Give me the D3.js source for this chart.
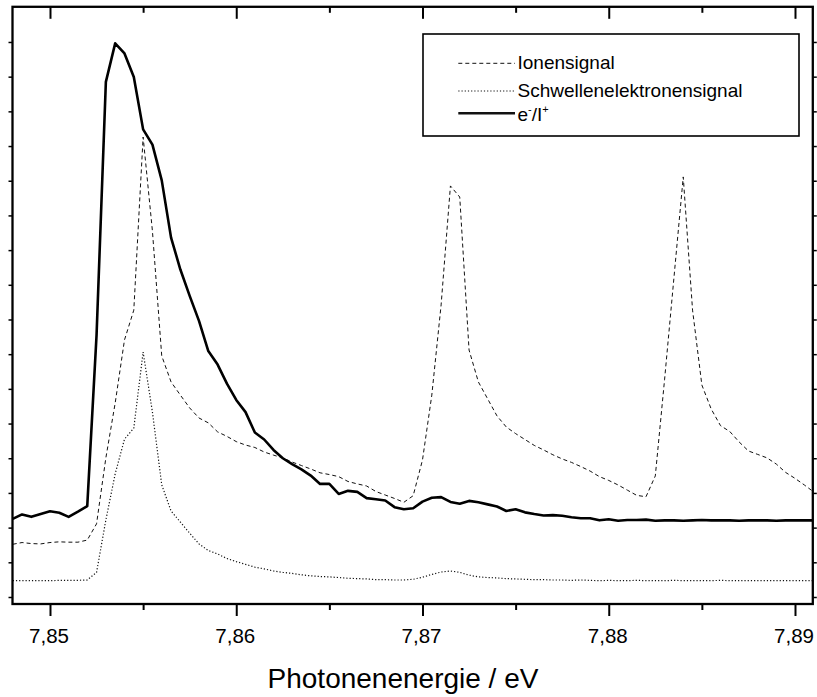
<!DOCTYPE html>
<html>
<head>
    <title>Photonenenergie Spektrum</title>
    <!-- fetch the D3js library -->
    <script src="https://d3js.org/d3.v7.min.js"></script>
    <style>
        body {
            margin: 0;
            background: #ffffff;
            font-family: "Liberation Sans", Arial, Helvetica, sans-serif;
        }
    </style>
</head>
<body>
<script>
    // Photon energy grid (eV)
    const energy = [
        7.8480, 7.8485, 7.8490, 7.8495, 7.8500, 7.8505, 7.8510, 7.8515, 7.8520, 7.8525,
        7.8530, 7.8535, 7.8540, 7.8545, 7.8550, 7.8555, 7.8560, 7.8565, 7.8570, 7.8575,
        7.8580, 7.8585, 7.8590, 7.8595, 7.8600, 7.8605, 7.8610, 7.8615, 7.8620, 7.8625,
        7.8630, 7.8635, 7.8640, 7.8645, 7.8650, 7.8655, 7.8660, 7.8665, 7.8670, 7.8675,
        7.8680, 7.8685, 7.8690, 7.8695, 7.8700, 7.8705, 7.8710, 7.8715, 7.8720, 7.8725,
        7.8730, 7.8735, 7.8740, 7.8745, 7.8750, 7.8755, 7.8760, 7.8765, 7.8770, 7.8775,
        7.8780, 7.8785, 7.8790, 7.8795, 7.8800, 7.8805, 7.8810, 7.8815, 7.8820, 7.8825,
        7.8830, 7.8835, 7.8840, 7.8845, 7.8850, 7.8855, 7.8860, 7.8865, 7.8870, 7.8875,
        7.8880, 7.8885, 7.8890, 7.8895, 7.8900, 7.8905, 7.8910
    ];

    // Ionensignal (arb. units)
    const ionSignal = [
        1.52, 1.57, 1.54, 1.53, 1.57, 1.59, 1.58, 1.58, 1.64, 2.11,
        4.01, 5.59, 7.41, 8.27, 13.26, 10.55, 6.95, 6.20, 5.82, 5.45,
        5.16, 5.02, 4.76, 4.63, 4.48, 4.38, 4.31, 4.18, 4.09, 4.01,
        3.89, 3.79, 3.69, 3.58, 3.53, 3.47, 3.33, 3.26, 3.20, 3.04,
        2.94, 2.84, 2.73, 2.92, 3.95, 5.82, 8.42, 11.85, 11.53, 7.12,
        6.20, 5.71, 5.22, 4.90, 4.71, 4.54, 4.37, 4.24, 4.10, 3.98,
        3.88, 3.76, 3.63, 3.47, 3.36, 3.23, 3.08, 2.93, 2.89, 3.49,
        6.28, 9.20, 12.11, 8.27, 6.11, 5.42, 4.94, 4.77, 4.47, 4.21,
        4.11, 4.01, 3.83, 3.59, 3.42, 3.23, 3.03
    ];

    // Schwellenelektronensignal (arb. units)
    const thresholdSignal = [
        0.47, 0.47, 0.47, 0.47, 0.47, 0.48, 0.48, 0.48, 0.49, 0.71,
        2.22, 3.55, 4.55, 4.87, 7.06, 5.33, 3.23, 2.48, 2.16, 1.84,
        1.53, 1.34, 1.24, 1.11, 1.02, 0.94, 0.86, 0.81, 0.75, 0.71,
        0.68, 0.64, 0.61, 0.59, 0.58, 0.56, 0.54, 0.53, 0.52, 0.50,
        0.50, 0.49, 0.49, 0.51, 0.57, 0.65, 0.72, 0.75, 0.71, 0.63,
        0.58, 0.56, 0.55, 0.53, 0.52, 0.51, 0.50, 0.50, 0.49, 0.49,
        0.48, 0.49, 0.48, 0.47, 0.48, 0.47, 0.47, 0.48, 0.47, 0.47,
        0.47, 0.48, 0.47, 0.47, 0.47, 0.47, 0.48, 0.47, 0.47, 0.47,
        0.47, 0.47, 0.47, 0.47, 0.47, 0.47, 0.47
    ];

    // e-/I+ ratio (arb. units)
    const ratioSignal = [
        2.25, 2.38, 2.31, 2.39, 2.47, 2.43, 2.31, 2.46, 2.62, 7.55,
        14.85, 15.96, 15.67, 14.99, 13.48, 13.04, 12.01, 10.36, 9.44, 8.68,
        7.96, 7.09, 6.70, 6.15, 5.68, 5.33, 4.74, 4.54, 4.24, 4.00,
        3.83, 3.68, 3.50, 3.26, 3.26, 2.97, 3.06, 3.03, 2.85, 2.82,
        2.78, 2.59, 2.53, 2.56, 2.75, 2.86, 2.88, 2.74, 2.69, 2.77,
        2.73, 2.67, 2.61, 2.48, 2.53, 2.44, 2.39, 2.35, 2.36, 2.34,
        2.30, 2.27, 2.27, 2.21, 2.24, 2.20, 2.22, 2.22, 2.23, 2.20,
        2.21, 2.21, 2.20, 2.21, 2.22, 2.21, 2.21, 2.21, 2.20, 2.21,
        2.21, 2.21, 2.20, 2.21, 2.21, 2.21, 2.21
    ];

    // axis ticks and legend labels
    const xMajorTicks = [7.85, 7.86, 7.87, 7.88, 7.89];
    const xMinorTicks = [7.855, 7.865, 7.875, 7.885];
    const yTicks = [0, 1, 2, 3, 4, 5, 6, 7, 8, 9, 10, 11, 12, 13, 14, 15, 16];
    const seriesNames = ["Ionensignal", "Schwellenelektronensignal", "e-/I+"];

    const width = 817;
    const height = 697;
    const plot = {left: 12.5, right: 812.8, top: 6.8, bottom: 604};

    const svg = d3.select("body")
        .append("svg")
        .attr("width", width)
        .attr("height", height);

    const x = d3.scaleLinear()
        .domain([7.847987, 7.890956])
        .range([plot.left, plot.right]);

    const y = d3.scaleLinear()
        .domain([-0.202, 17.014])
        .range([plot.bottom, plot.top]);

    // clip lines to the frame
    svg.append("clipPath").attr("id", "plotclip")
        .append("rect")
        .attr("x", plot.left).attr("y", plot.top)
        .attr("width", plot.right - plot.left)
        .attr("height", plot.bottom - plot.top);

    const line = d3.line()
        .x(function (d, i) { return x(energy[i]); })
        .y(function (d) { return y(d); });

    const lines = svg.append("g").attr("clip-path", "url(#plotclip)");

    lines.append("path")
        .datum(ionSignal)
        .attr("d", line)
        .attr("fill", "none")
        .attr("stroke", "#111")
        .attr("stroke-width", 1)
        .attr("stroke-dasharray", "4,3");

    lines.append("path")
        .datum(thresholdSignal)
        .attr("d", line)
        .attr("fill", "none")
        .attr("stroke", "#111")
        .attr("stroke-width", 1.2)
        .attr("stroke-dasharray", "1.2,2");

    lines.append("path")
        .datum(ratioSignal)
        .attr("d", line)
        .attr("fill", "none")
        .attr("stroke", "#000")
        .attr("stroke-width", 2.6)
        .attr("stroke-linejoin", "round");

    // bottom axis (ticks outward)
    const bottomAxis = svg.append("g")
        .attr("transform", "translate(0," + plot.bottom + ")")
        .call(d3.axisBottom(x).tickValues(xMajorTicks).tickSize(12).tickSizeOuter(0)
            .tickFormat(function (d) { return d3.format(".2f")(d).replace(".", ","); }));
    bottomAxis.select(".domain").remove();
    bottomAxis.selectAll(".tick line").attr("stroke", "#000").attr("stroke-width", 2);
    bottomAxis.selectAll(".tick text")
        .attr("y", 0).attr("dy", null)
        .attr("transform", "translate(-1.5,38.5)")
        .style("font-family", "Liberation Sans, Arial, sans-serif")
        .style("font-size", "20.5px")
        .attr("fill", "#000");

    svg.append("g")
        .attr("transform", "translate(0," + plot.bottom + ")")
        .call(d3.axisBottom(x).tickValues(xMinorTicks).tickSize(6).tickFormat(""))
        .call(function (g) {
            g.select(".domain").remove();
            g.selectAll(".tick line").attr("stroke", "#000").attr("stroke-width", 2);
        });

    // top axis (mirrored, ticks pointing into the plot)
    svg.append("g")
        .attr("transform", "translate(0," + plot.top + ")")
        .call(d3.axisBottom(x).tickValues(xMajorTicks).tickSize(12).tickFormat(""))
        .call(function (g) {
            g.select(".domain").remove();
            g.selectAll(".tick line").attr("stroke", "#000").attr("stroke-width", 2);
        });

    svg.append("g")
        .attr("transform", "translate(0," + plot.top + ")")
        .call(d3.axisBottom(x).tickValues(xMinorTicks).tickSize(6).tickFormat(""))
        .call(function (g) {
            g.select(".domain").remove();
            g.selectAll(".tick line").attr("stroke", "#000").attr("stroke-width", 2);
        });

    // left and right axes, no labels
    svg.append("g")
        .attr("transform", "translate(" + plot.left + ",0)")
        .call(d3.axisLeft(y).tickValues(yTicks).tickSize(4).tickFormat(""))
        .call(function (g) {
            g.select(".domain").remove();
            g.selectAll(".tick line").attr("stroke", "#000").attr("stroke-width", 1.5);
        });

    svg.append("g")
        .attr("transform", "translate(" + plot.right + ",0)")
        .call(d3.axisRight(y).tickValues(yTicks).tickSize(4).tickFormat(""))
        .call(function (g) {
            g.select(".domain").remove();
            g.selectAll(".tick line").attr("stroke", "#000").attr("stroke-width", 1.5);
        });

    // frame
    svg.append("rect")
        .attr("x", plot.left).attr("y", plot.top)
        .attr("width", plot.right - plot.left)
        .attr("height", plot.bottom - plot.top)
        .attr("fill", "none")
        .attr("stroke", "#000")
        .attr("stroke-width", 2.3);

    // x axis title
    svg.append("text")
        .attr("x", 403)
        .attr("y", 687.5)
        .attr("text-anchor", "middle")
        .style("font-size", "28px")
        .attr("fill", "#000")
        .text("Photonenenergie / eV");

    // legend
    const legend = svg.append("g");
    legend.append("rect")
        .attr("x", 423).attr("y", 34)
        .attr("width", 376).attr("height", 102)
        .attr("fill", "#fff")
        .attr("stroke", "#000")
        .attr("stroke-width", 1.6);

    const legendRows = [
        {name: seriesNames[0], lineY: 63.3, textY: 69, dash: "4,3", w: 1},
        {name: seriesNames[1], lineY: 91, textY: 96.5, dash: "1.2,2", w: 1.2},
        {name: seriesNames[2], lineY: 113.3, textY: 121, dash: null, w: 2.6}
    ];

    legendRows.forEach(function (r, i) {
        legend.append("line")
            .attr("x1", 458.3).attr("x2", 515)
            .attr("y1", r.lineY).attr("y2", r.lineY)
            .attr("stroke", "#111")
            .attr("stroke-width", r.w)
            .attr("stroke-dasharray", r.dash);

        const t = legend.append("text")
            .attr("x", 517.5)
            .attr("y", r.textY)
            .style("font-size", "19px")
            .attr("fill", "#000");

        if (i === 2) {
            // e⁻/I⁺ with superscripts
            t.append("tspan").text("e");
            t.append("tspan").attr("dy", -8).style("font-size", "11px").text("-");
            t.append("tspan").attr("dy", 8).text("/I");
            t.append("tspan").attr("dy", -8).style("font-size", "11px").text("+");
        } else {
            t.text(r.name);
        }
    });
</script>
</body>
</html>
